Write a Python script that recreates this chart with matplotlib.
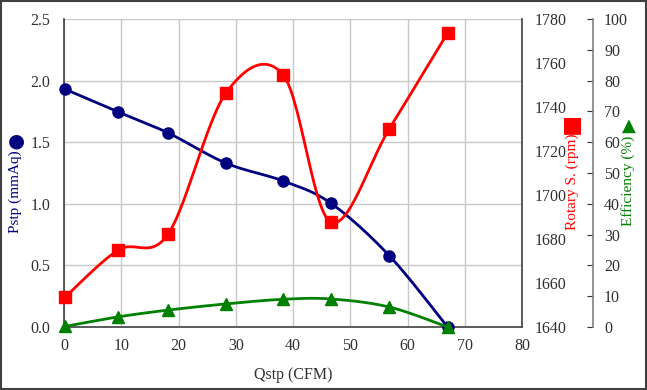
import numpy as np
import matplotlib.pyplot as plt
from matplotlib.patches import Rectangle

# ---- data ----
qstp = [0.2, 9.5, 18.2, 28.3, 38.3, 46.6, 56.8, 67.0]
pstp = [1.93, 1.745, 1.575, 1.33, 1.185, 1.005, 0.58, 0.0]
rpm = [1653.6, 1675.0, 1682.3, 1746.4, 1754.5, 1687.7, 1730.0, 1773.6]
eff = [0.2, 3.3, 5.5, 7.5, 9.0, 9.1, 6.5, 0.0]

x_ticks = [0, 10, 20, 30, 40, 50, 60, 70, 80]

plt.rcParams['font.family'] = ['Liberation Serif', 'DejaVu Sans']

NAVY = '#000080'
RED = '#ff0000'
GREEN = '#008000'
SPINE = '#404040'


# Excel風のスムージング(Catmull-Rom)
def smooth(xs, ys, n=30):
    xs = np.asarray(xs, float)
    ys = np.asarray(ys, float)
    px = np.concatenate([[xs[0]], xs, [xs[-1]]])
    py = np.concatenate([[ys[0]], ys, [ys[-1]]])
    out_x, out_y = [], []
    t = np.linspace(0, 1, n)
    for i in range(1, len(px) - 2):
        p0x, p1x, p2x, p3x = px[i - 1], px[i], px[i + 1], px[i + 2]
        p0y, p1y, p2y, p3y = py[i - 1], py[i], py[i + 1], py[i + 2]
        c1x = p1x + (p2x - p0x) / 6
        c1y = p1y + (p2y - p0y) / 6
        c2x = p2x - (p3x - p1x) / 6
        c2y = p2y - (p3y - p1y) / 6
        bx = (1 - t) ** 3 * p1x + 3 * (1 - t) ** 2 * t * c1x + 3 * (1 - t) * t ** 2 * c2x + t ** 3 * p2x
        by = (1 - t) ** 3 * p1y + 3 * (1 - t) ** 2 * t * c1y + 3 * (1 - t) * t ** 2 * c2y + t ** 3 * p2y
        out_x.extend(bx)
        out_y.extend(by)
    return out_x, out_y


fig = plt.figure(figsize=(6.47, 3.9), dpi=100)
ax = fig.add_axes([64 / 647, 1 - 327 / 390, (522 - 64) / 647, (327 - 19) / 390])
ax_r = ax.twinx()
ax_e = ax.twinx()

# grid
ax.set_xlim(0, 80)
ax.set_ylim(0, 2.5)
ax.set_xticks(x_ticks)
ax.set_yticks([0, 0.5, 1.0, 1.5, 2.0, 2.5])
ax.set_yticklabels(['0.0', '0.5', '1.0', '1.5', '2.0', '2.5'])
ax.grid(True, color='#c8c8c8', linewidth=1.0)
ax.set_axisbelow(True)
ax.tick_params(axis='both', length=0, labelsize=11.5, colors='#303030', pad=8)
ax.tick_params(axis='y', pad=10)
for s in ['top', 'right']:
    ax.spines[s].set_visible(False)
for s in ['left', 'bottom']:
    ax.spines[s].set_color(SPINE)
    ax.spines[s].set_linewidth(1.2)
ax.set_xlabel('Qstp (CFM)', fontsize=11.5, color='#303030', labelpad=9)

# rpm axis
ax_r.set_ylim(1640, 1780)
ax_r.set_yticks(range(1640, 1781, 20))
ax_r.tick_params(axis='y', length=0, labelsize=11.5, colors='#303030', pad=9)
ax_r.spines['right'].set_color(SPINE)
ax_r.spines['right'].set_linewidth(1.2)
for s in ['top', 'left', 'bottom']:
    ax_r.spines[s].set_visible(False)

# efficiency axis
ax_e.spines['right'].set_position(('axes', (593 - 64) / (522 - 64)))
ax_e.set_ylim(0, 100)
ax_e.set_yticks(range(0, 101, 10))
ax_e.tick_params(axis='y', direction='in', length=4, labelsize=11.5, colors='#303030', pad=8)
ax_e.spines['right'].set_color('#808080')
ax_e.spines['right'].set_linewidth(1.2)
for s in ['top', 'left', 'bottom']:
    ax_e.spines[s].set_visible(False)

# series
sx, sy = smooth(qstp, pstp)
ax.plot(sx, sy, color=NAVY, linewidth=2, zorder=3)
ax.plot(qstp, pstp, 'o', color=NAVY, markersize=8, zorder=4, clip_on=False)

sx, sy = smooth(qstp, rpm)
ax_r.plot(sx, sy, color=RED, linewidth=2, zorder=3)
ax_r.plot(qstp, rpm, 's', color=RED, markersize=8, zorder=4, clip_on=False)

sx, sy = smooth(qstp, eff)
ax_e.plot(sx, sy, color=GREEN, linewidth=2, zorder=3)
ax_e.plot(qstp, eff, '^', color=GREEN, markersize=8, zorder=4, clip_on=False)

# axis titles with symbols
fig.text(15 / 647, 1 - 192 / 390, 'Pstp (mmAq)', rotation=90, ha='center', va='center',
         fontsize=11, color=NAVY)
fig.text(16 / 647, 1 - 141 / 390, '\u25cf', ha='center', va='center',
         fontsize=14, color=NAVY, family='DejaVu Sans')
fig.text(572 / 647, 1 - 182 / 390, 'Rotary S. (rpm)', rotation=90, ha='center', va='center',
         fontsize=11, color=RED)
fig.text(572 / 647, 1 - 125 / 390, '\u25a0', ha='center', va='center',
         fontsize=16, color=RED, family='DejaVu Sans')
fig.text(628 / 647, 1 - 181 / 390, 'Efficiency (%)', rotation=90, ha='center', va='center',
         fontsize=11, color=GREEN)
fig.text(629 / 647, 1 - 126 / 390, '\u25b2', ha='center', va='center',
         fontsize=13, color=GREEN, family='DejaVu Sans')

# outer border
fig.patches.append(Rectangle((0.002, 0.003), 0.996, 0.994, transform=fig.transFigure,
                             fill=False, edgecolor='#404040', linewidth=1.5))

fig.savefig('out.png', dpi=100)
